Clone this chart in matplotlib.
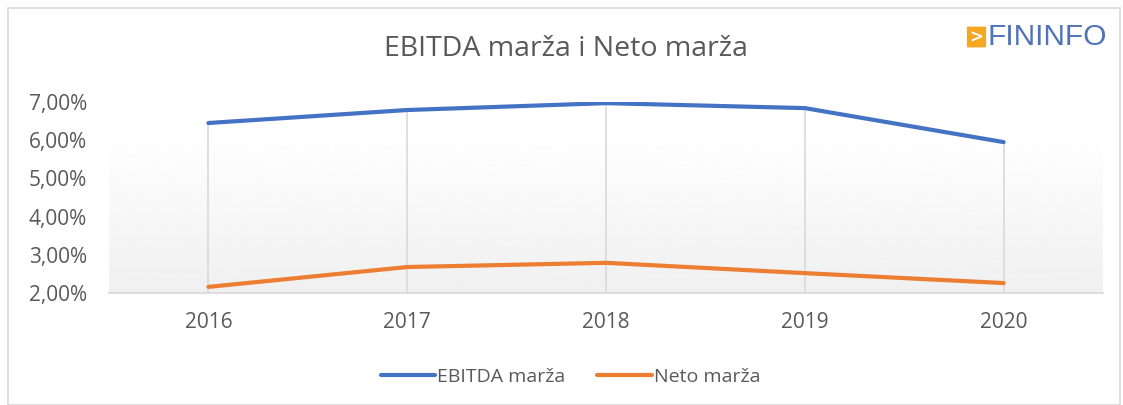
import numpy as np
import matplotlib.pyplot as plt
from matplotlib.patches import Rectangle, FancyBboxPatch
from matplotlib.ticker import FuncFormatter

plt.rcParams['font.family'] = ['Open Sans', 'DejaVu Sans']

# Data
years = ["2016", "2017", "2018", "2019", "2020"]
ebitda = [6.45, 6.79, 6.97, 6.84, 5.95]
neto = [2.16, 2.68, 2.79, 2.52, 2.26]

fig = plt.figure(figsize=(11.23, 4.05), dpi=100)
ax = fig.add_axes([109 / 1123, 1 - 293 / 405, (1103 - 109) / 1123, (293 - 102) / 405])

x = np.arange(len(years))

# gradient background of the plot area
grad = np.linspace(1.0, 0.94, 256).reshape(-1, 1)
ax.imshow(grad, extent=[-0.5, 4.5, 2, 6.2], aspect='auto', cmap='gray',
          vmin=0, vmax=1, zorder=0, origin='upper')

# drop lines
for xi, top in zip(x, ebitda):
    ax.plot([xi, xi], [2, top], color='#d9d9d9', lw=1.2, zorder=1)

ax.plot(x, ebitda, color='#4472c4', lw=3, label='EBITDA marža', zorder=3,
        solid_capstyle='round')
ax.plot(x, neto, color='#ed7d31', lw=3, label='Neto marža', zorder=3,
        solid_capstyle='round')

ax.set_xlim(-0.5, 4.5)
ax.set_ylim(2, 7)
ax.set_xticks(x)
ax.set_xticklabels(years)
ax.set_yticks([2, 3, 4, 5, 6, 7])
ax.yaxis.set_major_formatter(FuncFormatter(lambda v, p: f"{v:.2f}%".replace('.', ',')))
ax.tick_params(length=0, labelsize=15, colors='#595959')
ax.tick_params(axis='x', pad=14)
ax.tick_params(axis='y', pad=16)
for s in ['top', 'right', 'left']:
    ax.spines[s].set_visible(False)
ax.spines['bottom'].set_color('#d9d9d9')
ax.spines['bottom'].set_linewidth(1.2)
ax.set_facecolor('none')

fig.text(0.504, 1 - 49 / 405, "EBITDA marža i Neto marža", ha='center', va='center',
         fontsize=20.5, color='#595959')

leg = fig.legend(loc='center', bbox_to_anchor=(0.508, 1 - 377 / 405), ncol=2,
                 frameon=False, fontsize=14, handlelength=2.8, handletextpad=0.1,
                 columnspacing=1.65)
for t in leg.get_texts():
    t.set_color('#595959')

# chart border
fig.patches.append(Rectangle((8 / 1123, 0), 1112 / 1123, 1 - 8 / 405, transform=fig.transFigure,
                             fill=False, edgecolor='#d9d9d9', lw=1.2))

# logo
fig.patches.append(FancyBboxPatch((968 / 1123, 1 - 47 / 405), 17 / 1123, 20 / 405,
                                  boxstyle='round,pad=0.001', transform=fig.transFigure,
                                  facecolor='#f5a623', edgecolor='none'))
fig.text(976.5 / 1123, 1 - 37.5 / 405, ">", ha='center', va='center', fontsize=12,
         color='white', fontweight='bold', family=['DejaVu Sans'])
fig.text(988 / 1123, 1 - 37 / 405, "FININFO", ha='left', va='center', fontsize=21.5,
         color='#4f72b8', family=['Liberation Sans', 'DejaVu Sans'])

fig.savefig("out.png", dpi=100)
